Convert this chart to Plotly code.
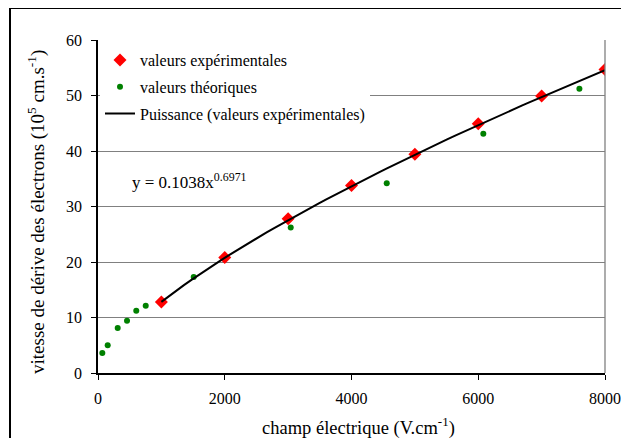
import plotly.graph_objects as go
import numpy as np

# Experimental values
exp_x = [1000, 2000, 3000, 4000, 5000, 6000, 7000, 8000]
exp_y = [12.8, 20.8, 27.8, 33.8, 39.4, 44.9, 49.9, 54.7]

# Theoretical values
th_x = [68, 153, 311, 458, 604, 753, 1510, 3041, 4556, 6080, 7596]
th_y = [3.6, 5.0, 8.1, 9.4, 11.2, 12.1, 17.3, 26.2, 34.2, 43.1, 51.2]

# Power trendline coefficients (as displayed)
fit_a = 0.1038
fit_b = 0.6971

x_ticks = [0, 2000, 4000, 6000, 8000]
y_ticks = [0, 10, 20, 30, 40, 50, 60]

fit_x = np.linspace(min(exp_x), max(exp_x), 60)
fit_y = fit_a * fit_x ** fit_b

FONT = "Liberation Serif, Times New Roman, serif"

fig = go.Figure()
fig.add_trace(go.Scatter(
    x=exp_x, y=exp_y, mode="markers", name="valeurs expérimentales",
    marker=dict(symbol="diamond", color="#ff0000", size=10),
    legendgroup="a"))
fig.add_trace(go.Scatter(
    x=th_x, y=th_y, mode="markers", name="valeurs théoriques",
    marker=dict(symbol="circle", color="#008000", size=6),
    legendgroup="b"))
fig.add_trace(go.Scatter(
    x=fit_x, y=fit_y, mode="lines", name="Puissance (valeurs expérimentales)",
    line=dict(color="black", width=2), legendgroup="c"))

# page body has an 8px margin: the figure starts at (8, 8) on screen
OFF = 8
W, H = 629 - OFF, 438 - OFF
# target plot area on screen: x 98..605, y 40..372.7
L, R, T, B = 98 - OFF, 24, 40 - OFF, 65
pw = W - L - R
ph = H - T - B

def px(xs):
    # screen x -> paper
    return (xs - OFF - L) / pw

def py(ys):
    # screen y -> paper
    return (H - B - (ys - OFF)) / ph

fig.update_layout(
    width=W, height=H,
    margin=dict(l=L, r=R, t=T, b=B, autoexpand=False),
    paper_bgcolor="white", plot_bgcolor="white",
    font=dict(family=FONT, size=16, color="black"),
    showlegend=True,
    legend=dict(x=px(100), y=py(43), xanchor="left", yanchor="top",
                bgcolor="white", font=dict(family=FONT, size=16),
                tracegroupgap=3, traceorder="grouped"),
    xaxis=dict(range=[0, 8000], tickvals=x_ticks, ticks="outside", ticklen=5,
               tickcolor="black", showline=True, linecolor="black", linewidth=1.5,
               showgrid=False, zeroline=False, ticklabelstandoff=5,
               tickfont=dict(family=FONT, size=16)),
    yaxis=dict(range=[0, 60], tickvals=y_ticks, ticks="outside", ticklen=5,
               tickcolor="black", showline=True, linecolor="black", linewidth=1.5,
               showgrid=True, gridcolor="#808080", gridwidth=1.3, zeroline=False,
               ticklabelstandoff=6, tickfont=dict(family=FONT, size=16)),
    annotations=[
        dict(x=px(130), y=py(181), xref="paper", yref="paper", xanchor="left",
             yanchor="middle", showarrow=False,
             text="y = 0.1038x<sup>0.6971</sup>", font=dict(family=FONT, size=17)),
        dict(x=px(358), y=py(426), xref="paper", yref="paper", xanchor="center",
             yanchor="middle", showarrow=False,
             text="champ électrique (V.cm<sup>-1</sup>)", font=dict(family=FONT, size=18.5)),
        dict(x=px(36), y=py(212), xref="paper", yref="paper", xanchor="center",
             yanchor="middle", showarrow=False, textangle=-90,
             text="vitesse de dérive des électrons (10<sup>5</sup> cm.s<sup>-1</sup>)",
             font=dict(family=FONT, size=19)),
    ],
    shapes=[
        # right plot-area border
        dict(type="line", xref="paper", yref="paper", x0=1, x1=1, y0=0, y1=1,
             line=dict(color="#808080", width=1.3)),
        # outer chart border (top and left)
        dict(type="line", xref="paper", yref="paper", x0=px(10), x1=px(640),
             y0=py(8), y1=py(8), line=dict(color="black", width=2)),
        dict(type="line", xref="paper", yref="paper", x0=px(10), x1=px(10),
             y0=py(8), y1=py(450), line=dict(color="black", width=2)),
    ],
)

fig.write_html("out.html")
